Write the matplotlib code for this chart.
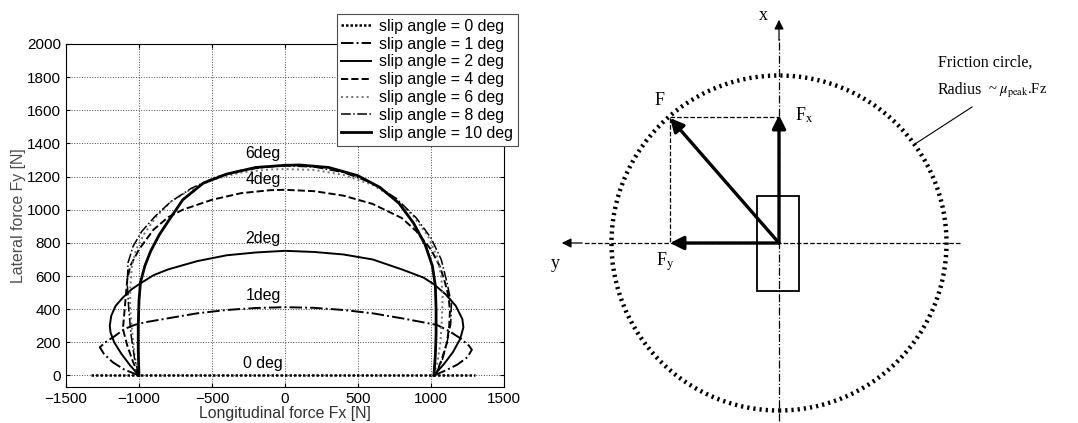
import matplotlib.pyplot as plt
from matplotlib.patches import Circle, Rectangle

plt.rcParams['font.family'] = ['Liberation Sans', 'DejaVu Sans']
plt.rcParams['mathtext.fontset'] = 'stix'

# slip angle curves (Fx, Fy in N)
fx_0 = [-1330, -1000, 0, 1000, 1300]
fy_0 = [0, 0, 0, 0, 0]

fx_1 = [-1000, -1100, -1180, -1240, -1268, -1230, -1170, -1100, -1030, -950, -800, -600, -400, -200, 0,
        200, 400, 600, 800, 950, 1040, 1120, 1200, 1260, 1280, 1250, 1180, 1100, 1020]
fy_1 = [0, 35, 80, 130, 170, 200, 235, 280, 305, 322, 345, 375, 395, 407, 412,
        408, 395, 375, 345, 320, 305, 270, 225, 180, 155, 110, 65, 30, 0]

fx_2 = [-1000, -1060, -1120, -1170, -1195, -1200, -1190, -1160, -1110, -1050, -1000, -900, -800, -600, -400, -200, 0,
        200, 400, 600, 800, 950, 1020, 1100, 1170, 1215, 1222, 1200, 1150, 1090, 1020]
fy_2 = [0, 60, 130, 200, 260, 300, 360, 420, 470, 520, 550, 605, 640, 690, 725, 742, 752,
        745, 730, 700, 640, 590, 550, 490, 420, 340, 290, 220, 140, 70, 0]

fx_4 = [-1000, -1040, -1080, -1110, -1100, -1090, -1080, -1060, -1000, -900, -800, -700, -500, -300, -100, 0,
        200, 400, 600, 800, 900, 1000, 1060, 1090, 1120, 1130, 1125, 1110, 1075, 1030]
fy_4 = [0, 80, 180, 280, 380, 480, 580, 660, 760, 880, 955, 1000, 1060, 1100, 1118, 1120,
        1112, 1085, 1035, 950, 870, 760, 660, 580, 480, 390, 300, 200, 100, 0]

fx_6 = [-1000, -1030, -1045, -1060, -1060, -1050, -1020, -960, -880, -780, -650, -500, -300, -100, 0,
        200, 400, 600, 750, 880, 980, 1040, 1070, 1080, 1075, 1065, 1045, 1020]
fy_6 = [0, 120, 250, 400, 520, 650, 760, 860, 960, 1050, 1120, 1180, 1225, 1243, 1245,
        1240, 1210, 1150, 1070, 960, 840, 720, 600, 480, 350, 200, 80, 0]

fx_8 = [-1000, -1030, -1055, -1070, -1080, -1075, -1040, -980, -890, -780, -640, -480, -300, -100, 0,
        200, 400, 600, 760, 900, 1000, 1070, 1110, 1140, 1135, 1110, 1080, 1030]
fy_8 = [0, 100, 250, 400, 550, 680, 780, 870, 960, 1050, 1130, 1195, 1238, 1260, 1265,
        1258, 1225, 1160, 1070, 950, 830, 700, 560, 430, 310, 200, 100, 0]

fx_10 = [-1000, -1005, -1005, -1000, -990, -960, -920, -860, -800, -700, -560, -400, -200, 0, 100,
         300, 500, 650, 780, 880, 960, 1010, 1030, 1035, 1035, 1030, 1020]
fy_10 = [0, 150, 300, 450, 560, 660, 750, 850, 930, 1060, 1160, 1215, 1255, 1268, 1270,
         1255, 1205, 1135, 1040, 920, 790, 660, 540, 400, 250, 120, 0]

labels = ['slip angle = 0 deg', 'slip angle = 1 deg', 'slip angle = 2 deg', 'slip angle = 4 deg',
          'slip angle = 6 deg', 'slip angle = 8 deg', 'slip angle = 10 deg']
curve_names = ['0 deg', '1deg', '2deg', '4deg', '6deg']
curve_name_y = [70, 480, 825, 1180, 1340]

fig = plt.figure(figsize=(10.78, 4.23), dpi=100)

# ---- left: force curves ----
ax = fig.add_axes([0.0612, 0.085, 0.4063, 0.811])
ax.plot(fx_0, fy_0, color='k', ls=(0, (1, 0.8)), lw=1.8, label=labels[0])
ax.plot(fx_1, fy_1, color='k', ls='-.', lw=1.4, label=labels[1])
ax.plot(fx_2, fy_2, color='k', ls='-', lw=1.4, label=labels[2])
ax.plot(fx_4, fy_4, color='k', ls='--', lw=1.4, label=labels[3])
ax.plot(fx_6, fy_6, color='0.45', ls=':', lw=1.4, label=labels[4])
ax.plot(fx_8, fy_8, color='k', ls='-.', lw=1.1, label=labels[5])
ax.plot(fx_10, fy_10, color='k', ls='-', lw=2.0, label=labels[6])

for name, yy in zip(curve_names, curve_name_y):
    ax.text(-150, yy, name, ha='center', va='center', fontsize=11.4)

ax.set_xlim(-1500, 1500)
ax.set_ylim(-70, 2000)
ax.set_xticks(range(-1500, 1501, 500))
ax.set_yticks(range(0, 2001, 200))
ax.grid(True, ls=':', color='k', lw=0.7, alpha=0.7)
ax.tick_params(direction='in', top=True, right=True, labelsize=11, length=3)
ax.set_xlabel('Longitudinal force Fx [N]', fontsize=11.4, labelpad=0, color='0.2')
ax.set_ylabel('Lateral force Fy [N]', fontsize=11.4, labelpad=1, color='0.3')

leg = ax.legend(loc='upper right', bbox_to_anchor=(518 / 1078, 1 - 14 / 423),
                bbox_transform=fig.transFigure, borderaxespad=0, fontsize=11.4,
                handlelength=1.9, handletextpad=0.5, labelspacing=0.18, fancybox=False,
                framealpha=1, edgecolor='0.3', borderpad=0.3)
leg.get_frame().set_linewidth(0.8)

# ---- right: friction circle sketch (units: pixels from the wheel centre) ----
circle_radius = 167.5
force_F = (-109, 125)
force_Fx = (0, 128)
force_Fy = (-109, 0)
tyre_x, tyre_y, tyre_w, tyre_h = -22, -48, 42, 95

rx = fig.add_axes([540 / 1078, 0, 538 / 1078, 1])
rx.set_xlim(-239, 299)
rx.set_ylim(-180, 243)
rx.axis('off')
serif = ['Liberation Serif', 'DejaVu Serif']

rx.add_patch(Circle((0, 0), circle_radius, fill=False, ec='k', lw=3.2, ls=(0, (0.5, 0.9))))
rx.add_patch(Rectangle((tyre_x, tyre_y), tyre_w, tyre_h, fill=False, ec='k', lw=1.3))

# axes of the sketch
rx.plot([0, 0], [-178, 205], color='k', ls='-.', lw=0.9)
rx.annotate('', xy=(0, 226), xytext=(0, 200),
            arrowprops=dict(arrowstyle='-|>', color='k', lw=0.9, mutation_scale=14))
rx.plot([181, -195], [0, 0], color='k', ls='--', lw=0.9)
rx.annotate('', xy=(-220, 0), xytext=(-194, 0),
            arrowprops=dict(arrowstyle='-|>', color='k', lw=0.9, mutation_scale=14))

# projections
rx.plot([force_F[0], 0], [force_F[1] + 1, force_F[1] + 1], color='k', ls='--', lw=0.9)
rx.plot([force_F[0], force_F[0]], [force_F[1], 0], color='k', ls='--', lw=0.9)

for vec in [force_F, force_Fx, force_Fy]:
    rx.annotate('', xy=vec, xytext=(0, 0),
                arrowprops=dict(arrowstyle='-|>', color='k', lw=2.4, mutation_scale=20,
                                shrinkA=0, shrinkB=0))

rx.text(-16, 228, 'x', fontsize=13, family=serif, ha='center', va='center')
rx.text(-224, -20, 'y', fontsize=13, family=serif, ha='center', va='center')
rx.text(-119, 143, 'F', fontsize=13, family=serif, ha='center', va='center')
rx.text(25, 128, 'F$_{\\rm x}$', fontsize=13, family=serif, ha='center', va='center')
rx.text(-114, -19, 'F$_{\\rm y}$', fontsize=13, family=serif, ha='center', va='center')
rx.text(159, 180, 'Friction circle,', fontsize=11.5, family=serif, ha='left', va='center')
rx.text(159, 153, 'Radius', fontsize=11.5, family=serif, ha='left', va='center')
rx.text(209, 152, '~ $\\mu_{\\rm peak}$.Fz', fontsize=10.5, family=serif, ha='left', va='center')
rx.plot([136, 193], [99, 136], color='k', lw=0.8)

fig.savefig('out.png', dpi=100)
